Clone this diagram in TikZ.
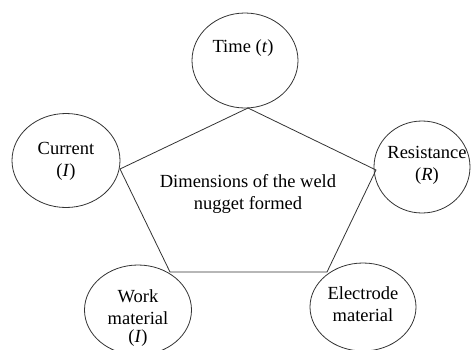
\documentclass[tikz,border=0pt]{standalone}
\usepackage{fontspec}
\setmainfont{Liberation Serif}
\usetikzlibrary{shapes.geometric}
\tikzset{
  oval/.style={draw=black!80, line width=0.8pt, ellipse, inner sep=0pt},
  lbl/.style={align=center, inner sep=0pt, font=\fontsize{18.5}{22}\selectfont},
  edge/.style={draw=black!80, line width=0.8pt}
}
\begin{document}
\begin{tikzpicture}[x=1pt,y=-1pt]
\useasboundingbox (0,0) rectangle (472,349);
\clip (0,0) rectangle (472,349);
% ellipses
\node[oval, minimum width=106pt, minimum height=95pt] (time) at (245,60.5) {};
\node[oval, minimum width=108pt, minimum height=94pt] (current) at (66,160.5) {};
\node[oval, minimum width=96pt, minimum height=92pt] (resist) at (422,167) {};
\node[oval, minimum width=107pt, minimum height=90pt] (work) at (138,310) {};
\node[oval, minimum width=106pt, minimum height=88pt] (electrode) at (363,307) {};
% texts
\node[lbl] (timetext) at (243,48) {Time (\textit{t})};
\node[lbl] (currenttext) at (66,161) {Current\\(\textit{I})};
\node[lbl] (resisttext) at (427,165) {Resistance\\(\textit{R})};
\node[lbl] (worktext) at (138,318) {Work\\material\\[-4pt](\textit{I})};
\node[lbl] (electrodetext) at (363,304) {Electrode\\material};
\node[lbl] (centertext) at (248,194) {Dimensions of the weld\\nugget formed};
% pentagon vertices
\coordinate (vtop) at (248,108);
\coordinate (vleft) at (120,169);
\coordinate (vright) at (376,170);
\coordinate (vbl) at (170,272);
\coordinate (vbr) at (327,272);
\draw[edge] (vtop) -- (vright) -- (vbr) -- (vbl) -- (vleft) -- cycle;
\end{tikzpicture}
\end{document}
